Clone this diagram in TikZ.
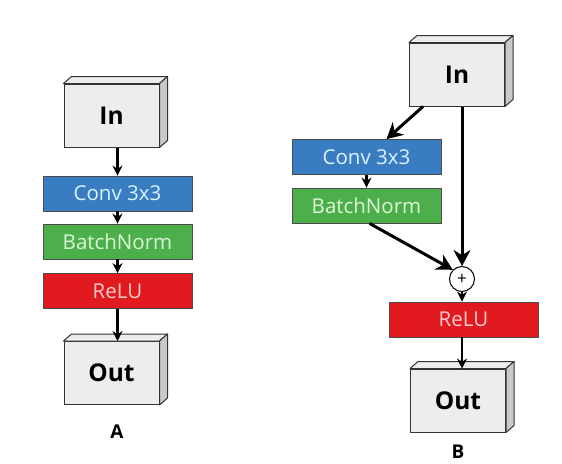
\documentclass[tikz,border=0pt]{standalone}
\usepackage{fontspec}
\setmainfont{Open Sans}
\usetikzlibrary{arrows.meta}
\definecolor{convblue}{HTML}{3A7CC2}
\definecolor{convtext}{HTML}{D8F4FF}
\definecolor{bngreen}{HTML}{4CAF4C}
\definecolor{bntext}{HTML}{DCF8D4}
\definecolor{relured}{HTML}{E01A1E}
\definecolor{relutext}{HTML}{FFCACA}
\definecolor{faceg}{HTML}{EDEDED}
\definecolor{sideg}{HTML}{C9C9C9}
\tikzset{
  layer/.style={draw=black!70, line width=0.8pt, minimum width=149pt, minimum height=35pt,
    inner sep=0pt, font=\fontsize{20.5}{22}\selectfont},
  conv/.style={layer, fill=convblue, text=convtext},
  bnorm/.style={layer, fill=bngreen, text=bntext},
  relu/.style={layer, fill=relured, text=relutext},
  tensor/.style={draw=black!80, line width=1pt, fill=faceg, minimum width=95pt, minimum height=63pt,
    inner sep=0pt, font=\fontsize{24.5}{26}\selectfont\bfseries},
  flow/.style={line width=2.4pt, -{Stealth[length=10pt,width=10pt]}},
  bigflow/.style={line width=3pt, -{Stealth[length=16pt,width=17pt]}},
  sumnode/.style={circle, draw=black, line width=1pt, fill=white, minimum size=25pt, inner sep=0pt,
    font=\fontsize{17}{17}\selectfont},
  tag/.style={font=\fontsize{19}{20}\selectfont\bfseries}
}
% 3-D box: top and right faces drawn behind the front face
\newcommand{\boxdepth}[1]{%
  \fill[faceg, draw=black!80, line width=1pt, line join=round]
    (#1.north west) -- ++(8pt,7pt) -- ([shift={(8pt,7pt)}]#1.north east) -- (#1.north east) -- cycle;
  \fill[sideg, draw=black!80, line width=1pt, line join=round]
    (#1.north east) -- ++(8pt,7pt) -- ([shift={(8pt,7pt)}]#1.south east) -- (#1.south east) -- cycle;
}
\begin{document}
\begin{tikzpicture}[x=1pt,y=-1pt]
\useasboundingbox[fill=white] (0,0) rectangle (562,463);

% ---- plain block (A) ----
\node[tensor] (inA) at (111.5,115.5) {In};
\boxdepth{inA}
\node[conv]  (convA) at (117.5,193.5) {Conv 3x3};
\node[bnorm] (bnA)   at (117.5,241.5) {BatchNorm};
\node[relu]  (reluA) at (117.5,291)   {ReLU};
\node[tensor] (outA) at (111.5,373) {Out};
\boxdepth{outA}
\node[tag] (labA) at (117,432) {A};

\draw[flow] (inA.south -| convA.north) -- (convA.north);
\draw[flow] (convA.south) -- (bnA.north);
\draw[flow] (bnA.south) -- (reluA.north);
\draw[flow] (reluA.south) -- (outA.north -| reluA.south);

% ---- residual block (B) ----
\node[tensor] (inB) at (457,74.5) {In};
\boxdepth{inB}
\node[conv]  (convB) at (366.5,157) {Conv 3x3};
\node[bnorm] (bnB)   at (366.5,205.5) {BatchNorm};
\node[sumnode] (sum) at (462,279) {+};
\node[relu]  (reluB) at (463.5,319.5) {ReLU};
\node[tensor] (outB) at (458,400.5) {Out};
\boxdepth{outB}
\node[tag] (labB) at (458,452) {B};

\draw[bigflow] ([xshift=-34pt]inB.south) -- ([xshift=20pt]convB.north);
\draw[flow] (convB.south) -- (bnB.north);
\draw[bigflow] ([xshift=3pt]bnB.south) -- (sum.north west);
\draw[bigflow] (inB.south -| sum.north) -- (sum.north);
\draw[flow] (sum.south) -- (reluB.north -| sum.south);
\draw[flow] (reluB.south -| sum.south) -- (outB.north -| sum.south);
\end{tikzpicture}
\end{document}
